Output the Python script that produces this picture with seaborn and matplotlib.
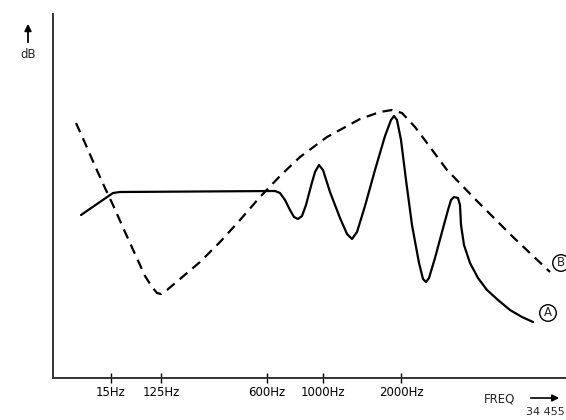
import numpy as np
import pandas as pd
import seaborn as sns
import matplotlib.pyplot as plt

# x = position along the (non-linear) frequency scale, y = relative level (dB)
TICK_POS = [58, 108, 214, 270, 348]
TICK_LABELS = ["15Hz", "125Hz", "600Hz", "1000Hz", "2000Hz"]

A_X = [28, 60, 67, 222, 227, 232, 237, 241, 245, 249, 253, 258, 262, 266, 270,
       277, 287, 294, 299, 304, 312, 322, 332, 338, 341, 344, 348, 353, 359, 366,
       370, 373, 376, 382, 389, 395, 398, 401, 405, 407, 408, 411, 417, 425, 434,
       445, 457, 469, 480]
A_Y = [163, 185, 186, 187, 185, 178, 168, 161, 159, 162, 173, 192, 206, 213, 208,
       186, 160, 144, 139, 146, 172, 208, 242, 258, 262, 258, 238, 198, 153, 115,
       99, 96, 100, 120, 146, 168, 178, 181, 180, 173, 153, 133, 115, 100, 88,
       78, 68, 61, 56]

B_X = [23, 32, 42, 52, 60, 72, 82, 92, 99, 104, 108, 114, 127, 147, 167,
       187, 207, 227, 247, 274, 307, 327, 339, 349, 362, 374, 394, 425, 460, 497]
B_Y = [255, 235, 212, 190, 173, 146, 124, 102, 91, 85, 84, 88, 99, 116, 136,
       158, 181, 202, 221, 241, 259, 266, 268, 265, 251, 235, 208, 176, 141, 106]


def main():
    sns.set_style("white")
    plt.rcParams["font.family"] = ["DejaVu Sans"]

    fig = plt.figure(figsize=(5.66, 4.2), dpi=100)
    ax = fig.add_axes([53 / 566, 42 / 420, 513 / 566, 364 / 420])

    df_a = pd.DataFrame({"x": A_X, "y": A_Y})
    df_b = pd.DataFrame({"x": B_X, "y": B_Y})

    sns.lineplot(data=df_a, x="x", y="y", sort=False, color="black",
                 linewidth=1.6, ax=ax)
    sns.lineplot(data=df_b, x="x", y="y", sort=False, color="black",
                 linewidth=1.6, linestyle=(0, (4.5, 3)), ax=ax)

    ax.set_xlim(0, 513)
    ax.set_ylim(0, 364)

    for side in ["top", "right"]:
        ax.spines[side].set_visible(False)
    for side in ["left", "bottom"]:
        ax.spines[side].set_color("#333333")
        ax.spines[side].set_linewidth(1.4)

    ax.set_xticks(TICK_POS)
    ax.set_xticklabels(TICK_LABELS, fontsize=8.5)
    ax.tick_params(axis="x", bottom=True, direction="inout", length=7,
                   width=1.0, pad=2, colors="black")
    ax.set_yticks([])
    ax.set_xlabel("")
    ax.set_ylabel("")

    # curve tags
    circ = dict(boxstyle="circle,pad=0.15", fc="white", ec="black", lw=1.0)
    ax.text(495, 65, "A", fontsize=8.5, ha="center", va="center",
            bbox=circ, clip_on=False)
    ax.text(508, 115, "B", fontsize=8.5, ha="center", va="center",
            bbox=circ, clip_on=False)

    # axis captions with arrows
    fig.text(28 / 566, 1 - 55 / 420, "dB", fontsize=8.5, ha="center", va="center")
    ax.annotate("", xy=(28 / 566, 1 - 21 / 420), xytext=(28 / 566, 1 - 45 / 420),
                xycoords="figure fraction", textcoords="figure fraction",
                arrowprops=dict(arrowstyle="-|>", color="black", lw=1.3,
                                mutation_scale=10))

    fig.text(500 / 566, 1 - 399 / 420, "FREQ", fontsize=8.5, ha="center",
             va="center")
    ax.annotate("", xy=(562 / 566, 1 - 398 / 420), xytext=(528 / 566, 1 - 398 / 420),
                xycoords="figure fraction", textcoords="figure fraction",
                arrowprops=dict(arrowstyle="-|>", color="black", lw=1.2,
                                mutation_scale=10))
    fig.text(545 / 566, 1 - 412 / 420, "34 455", fontsize=8, ha="center",
             va="center")

    fig.savefig("out.png", dpi=100)
    plt.close(fig)


if __name__ == "__main__":
    main()
